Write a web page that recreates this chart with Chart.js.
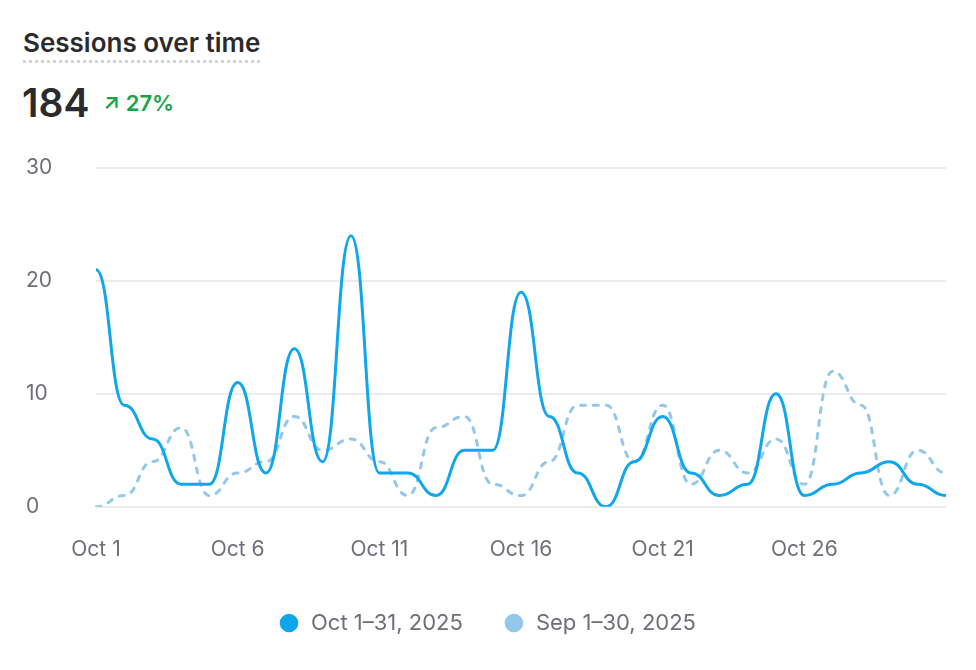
<!DOCTYPE html>
<html>
<head>
<meta charset="utf-8">
<script src="https://cdn.jsdelivr.net/npm/chart.js@4.4.1/dist/chart.umd.min.js"></script>
<style>
  html, body { margin: 0; padding: 0; background: #fff; overflow: hidden; }
  body { width: 976px; height: 670px; position: relative; font-family: Inter, "Noto Sans", sans-serif; }
  .title {
    position: absolute; left: 23px; top: 28px;
    font-size: 26px; font-weight: 600; color: #2b2b2e;
    padding-bottom: 2px;
    border-bottom: 3px dotted #d4d4d8;
    line-height: 30px;
  }
  .total {
    position: absolute; left: 22px; top: 79px;
    font-size: 39px; font-weight: 600; color: #2b2b2e;
    line-height: 48px;
  }
  .change {
    position: absolute; left: 103px; top: 90px;
    font-size: 22px; font-weight: 600; color: #16a34a;
    line-height: 26px;
  }
  .chart-box { position: absolute; left: 0; top: 140px; width: 976px; height: 560px; }
</style>
</head>
<body>
<div class="title">Sessions over time</div>
<div class="total">184</div>
<div class="change">↗ 27%</div>
<div class="chart-box"><canvas id="sessions-chart"></canvas></div>

<script>
// Sessions per day
const dayLabels = [
  'Oct 1', 'Oct 2', 'Oct 3', 'Oct 4', 'Oct 5', 'Oct 6', 'Oct 7', 'Oct 8', 'Oct 9', 'Oct 10',
  'Oct 11', 'Oct 12', 'Oct 13', 'Oct 14', 'Oct 15', 'Oct 16', 'Oct 17', 'Oct 18', 'Oct 19', 'Oct 20',
  'Oct 21', 'Oct 22', 'Oct 23', 'Oct 24', 'Oct 25', 'Oct 26', 'Oct 27', 'Oct 28', 'Oct 29', 'Oct 30', 'Oct 31'
];
const octSessions = [21, 9, 6, 2, 2, 11, 3, 14, 4, 24, 3, 3, 1, 5, 5, 19, 8, 3, 0, 4, 8, 3, 1, 2, 10, 1, 2, 3, 4, 2, 1];
const sepSessions = [0, 1, 4, 7, 1, 3, 4, 8, 5, 6, 4, 1, 7, 8, 2, 1, 4, 9, 9, 4, 9, 2, 5, 3, 6, 2, 12, 9, 1, 5, 3];
const yTicks = [0, 10, 20, 30];
const shownDays = ['Oct 1', 'Oct 6', 'Oct 11', 'Oct 16', 'Oct 21', 'Oct 26'];

const seriesNames = ['Oct 1–31, 2025', 'Sep 1–30, 2025'];
const colours = {
  current: '#0fa6ec',
  previous: '#93c8ea',
  grid: '#ececee',
  text: '#6e6e78'
};

// Bump-style curve: flat tangent at every point, S-shaped between points
const bumpCurve = {
  id: 'bumpCurve',
  beforeDatasetDraw(chart, args) {
    const line = args.meta.dataset;
    const pts = args.meta.data;
    if (!line || !pts.length) return;
    line.updateControlPoints(chart.chartArea, 'x');
    pts.forEach((p, i) => {
      const prev = pts[i - 1];
      const next = pts[i + 1];
      if (prev) { p.cp1x = (prev.x + p.x) / 2; p.cp1y = p.y; }
      if (next) { p.cp2x = (p.x + next.x) / 2; p.cp2y = p.y; }
    });
    line._path = undefined;
  }
};

const ctx = document.getElementById('sessions-chart');

new Chart(ctx, {
  type: 'line',
  data: {
    labels: dayLabels,
    datasets: [
      {
        label: seriesNames[0],
        data: octSessions,
        borderColor: colours.current,
        backgroundColor: colours.current,
        borderWidth: 3,
        pointRadius: 0,
        cubicInterpolationMode: 'monotone'
      },
      {
        label: seriesNames[1],
        data: sepSessions,
        borderColor: colours.previous,
        backgroundColor: colours.previous,
        borderWidth: 3,
        borderDash: [5, 8],
        borderCapStyle: 'round',
        pointRadius: 0,
        cubicInterpolationMode: 'monotone'
      }
    ]
  },
  options: {
    responsive: true,
    maintainAspectRatio: false,
    animation: false,
    layout: {
      padding: { left: 26, right: 28, top: 28, bottom: 56 }
    },
    plugins: {
      legend: {
        position: 'bottom',
        labels: {
          usePointStyle: true,
          pointStyle: 'circle',
          boxHeight: 11,
          color: colours.text,
          padding: 40,
          font: { family: 'Inter', size: 22 }
        }
      },
      tooltip: { enabled: false }
    },
    scales: {
      x: {
        grid: { display: false, drawTicks: false },
        border: { display: false },
        ticks: {
          autoSkip: false,
          maxRotation: 0,
          padding: 30,
          color: colours.text,
          font: { family: 'Inter', size: 21 },
          callback: function(value, index) {
            const label = dayLabels[index];
            return shownDays.includes(label) ? label : '';
          }
        },
        afterFit: function(scale) {
          scale.height -= 20;
        }
      },
      y: {
        min: yTicks[0],
        max: yTicks[yTicks.length - 1],
        grid: { color: colours.grid, lineWidth: 2, drawTicks: false },
        border: { display: false },
        ticks: {
          stepSize: 10,
          crossAlign: 'far',
          color: colours.text,
          font: { family: 'Inter', size: 21 }
        },
        afterFit: function(scale) {
          scale.width = 70;
        }
      }
    }
  },
  plugins: [bumpCurve]
});
</script>
</body>
</html>
